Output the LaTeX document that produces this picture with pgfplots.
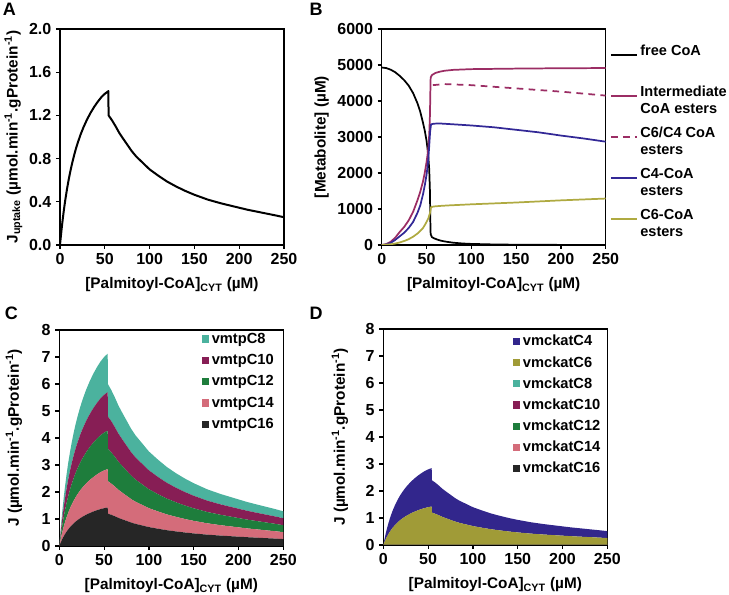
\documentclass[border=0pt]{standalone}
\usepackage{pgfplots}
\pgfplotsset{compat=1.18}
\usepackage{pgfplotstable}
\usepackage{fontspec}
\setmainfont{Liberation Sans}

\definecolor{cteal}{RGB}{75,178,158}
\definecolor{cmaroon}{RGB}{135,30,85}
\definecolor{cgreen}{RGB}{30,125,60}
\definecolor{cpink}{RGB}{212,108,122}
\definecolor{cdark}{RGB}{38,38,38}
\definecolor{cblue}{RGB}{50,38,140}
\definecolor{colive}{RGB}{160,155,55}
\definecolor{lmag}{RGB}{155,45,100}
\definecolor{lblue}{RGB}{50,40,150}
\definecolor{lolive}{RGB}{175,170,65}

% uptake flux (panel A); the same flux carries every beta-oxidation step in C and D
\pgfplotstableread{
x J z
0 0 0
0.5 0.043 0
1 0.085 0
2 0.163 0
3 0.235 0
4 0.302 0
5 0.364 0
6 0.422 0
8 0.527 0
10 0.619 0
12 0.700 0
14 0.773 0
16 0.839 0
18 0.898 0
20 0.951 0
23 1.023 0
26 1.086 0
30 1.159 0
34 1.222 0
38 1.277 0
42 1.325 0
46 1.367 0
50 1.400 0
54 1.425 0
54.2 1.20 0
58 1.155 0
62 1.10 0
66 1.04 0
70 0.99 0
75 0.93 0
80 0.87 0
85 0.82 0
90 0.78 0
95 0.74 0
100 0.70 0
110 0.64 0
120 0.585 0
130 0.54 0
140 0.50 0
150 0.465 0
165 0.42 0
180 0.385 0
195 0.355 0
210 0.325 0
225 0.30 0
240 0.275 0
250 0.257 0
}\tabJ

% panel B
\pgfplotstableread{
x y
0 4930
5 4915
10 4870
15 4800
20 4700
25 4580
30 4430
35 4220
40 3930
43 3700
46 3400
48 3180
50 2900
51 2700
52 2450
53 2100
53.8 1500
54.3 600
54.6 300
56 220
58 190
62 150
66 120
70 100
75 80
80 63
90 42
100 30
125 15
150 8
200 3
250 1
}\tabFree
\pgfplotstableread{
x y
0 0
5 25
10 90
15 200
20 360
25 500
30 680
35 920
40 1250
43 1480
46 1760
48 2000
50 2300
51 2480
52 2700
53 3050
53.8 3600
54.3 4300
54.6 4650
56 4720
60 4780
65 4815
70 4840
80 4865
100 4885
150 4900
200 4910
250 4915
}\tabInt
\pgfplotstableread{
x y
57 4440
70 4470
100 4440
150 4350
200 4260
250 4150
}\tabSum
\pgfplotstableread{
x y
0 0
5 15
10 60
15 140
20 240
25 340
30 470
35 640
40 900
43 1100
46 1400
48 1650
50 1950
51 2150
52 2400
53 2750
54 3150
55 3350
58 3370
65 3375
75 3360
100 3320
125 3270
150 3200
175 3130
200 3040
225 2960
250 2870
}\tabCfour
\pgfplotstableread{
x y
0 0
10 20
15 40
20 70
25 110
30 160
35 230
40 320
43 390
46 470
48 550
50 640
52 740
53 820
54 900
55 1050
58 1070
65 1085
75 1100
100 1130
150 1180
200 1240
250 1290
}\tabCsix

\pgfplotsset{
  panel/.style={
    scale only axis, width=168pt, height=162pt,
    xmin=0, xmax=250, xtick={0,50,...,250},
    axis line style={line width=0.9pt},
    tick style={line width=0.9pt, black},
    tick align=outside, major tick length=3pt,
    tick pos=left,
    tick label style={font=\fontsize{12}{14}\selectfont\bfseries},
    /pgf/number format/assume math mode=true,
    xlabel={[Palmitoyl-CoA]\textsubscript{CYT} (µM)},
    every axis x label/.style={at={(axis description cs:0.5,0)}, anchor=center, yshift=-30pt,
      font=\fontsize{11.5}{13}\selectfont\bfseries},
    every axis y label/.style={rotate=90, anchor=center,
      font=\fontsize{11.5}{13}\selectfont\bfseries},
  },
  sq/.style={legend image code/.code={\fill[##1] (0pt,-2.7pt) rectangle (5.4pt,2.7pt);}},
}

\begin{document}
\begin{tikzpicture}
\useasboundingbox (0pt,0pt) rectangle (546.75pt,446.25pt);

% A
\begin{axis}[panel, at={(45pt,262.5pt)},
  ymin=0, ymax=2, ytick={0,0.4,0.8,1.2,1.6,2.0},
  yticklabel style={/pgf/number format/.cd, fixed, fixed zerofill, precision=1},
  ylabel={J\textsubscript{uptake} (µmol.min\textsuperscript{-1}.gProtein\textsuperscript{-1})},
  ylabel style={at={([xshift=-35pt]axis description cs:0,0.5)}}]
\addplot[black, line width=1.5pt, line join=round] table[x=x, y=J] {\tabJ};
\end{axis}

% B
\begin{axis}[panel, at={(286.3pt,262.5pt)},
  ymin=0, ymax=6000, ytick={0,1000,...,6000}, scaled y ticks=false,
  yticklabel style={/pgf/number format/1000 sep={}},
  ylabel={[Metabolite] (µM)},
  ylabel style={at={([xshift=-45pt]axis description cs:0,0.5)}},
  legend style={at={(axis description cs:1,1)}, anchor=north west, xshift=0pt, yshift=-8pt,
    draw=none, fill=none, font=\fontsize{10.9}{12.6}\selectfont\bfseries,
    cells={align=left}, row sep=4.8pt},
  legend cell align=left,
  legend image code/.code={\draw[#1, line width=1.3pt] (0pt,3.6pt) -- (19.5pt,3.6pt);}]
\addplot[black, line width=1.3pt, line join=round] table {\tabFree};
\addlegendentry{free CoA\\\mbox{}}
\addplot[lmag, line width=1.3pt, line join=round] table {\tabInt};
\addlegendentry{Intermediate\\CoA esters}
\addplot[lmag, line width=1.3pt, dash pattern=on 5pt off 4pt] table {\tabSum};
\addlegendentry{C6/C4 CoA\\esters}
\addplot[lblue, line width=1.3pt, line join=round] table {\tabCfour};
\addlegendentry{C4-CoA\\esters}
\addplot[lolive, line width=1.3pt, line join=round] table {\tabCsix};
\addlegendentry{C6-CoA\\esters}
\end{axis}

% C
\begin{axis}[panel, at={(44.5pt,36.75pt)}, stack plots=y,
  ymin=0, ymax=8, ytick={0,...,8},
  ylabel={J (µmol.min\textsuperscript{-1}.gProtein\textsuperscript{-1})},
  ylabel style={at={([xshift=-34pt]axis description cs:0,0.5)}},
  sq, reverse legend,
  legend style={at={(axis description cs:1,1)}, anchor=north east, xshift=-2pt, yshift=2pt,
    draw=none, fill=none, font=\fontsize{11}{12.5}\selectfont\bfseries, row sep=2.8pt},
  legend cell align=left]
\addplot[fill=cdark, draw=none] table[x=x, y=J] {\tabJ} \closedcycle;
\addlegendentry{vmtpC16}
\addplot[fill=cpink, draw=none] table[x=x, y=J] {\tabJ} \closedcycle;
\addlegendentry{vmtpC14}
\addplot[fill=cgreen, draw=none] table[x=x, y=J] {\tabJ} \closedcycle;
\addlegendentry{vmtpC12}
\addplot[fill=cmaroon, draw=none] table[x=x, y=J] {\tabJ} \closedcycle;
\addlegendentry{vmtpC10}
\addplot[fill=cteal, draw=none] table[x=x, y=J] {\tabJ} \closedcycle;
\addlegendentry{vmtpC8}
\end{axis}

% D
\begin{axis}[panel, at={(287.5pt,37.5pt)}, stack plots=y,
  ymin=0, ymax=8, ytick={0,...,8},
  ylabel={J (µmol.min\textsuperscript{-1}.gProtein\textsuperscript{-1})},
  ylabel style={at={([xshift=-32.5pt]axis description cs:0,0.5)}},
  sq, reverse legend,
  legend style={at={(axis description cs:1,1)}, anchor=north east, xshift=0pt, yshift=-0.5pt,
    draw=none, fill=none, font=\fontsize{11}{12.5}\selectfont\bfseries, row sep=2.4pt},
  legend cell align=left]
\addplot[fill=cdark, draw=none] table[x=x, y=z] {\tabJ} \closedcycle;
\addlegendentry{vmckatC16}
\addplot[fill=cpink, draw=none] table[x=x, y=z] {\tabJ} \closedcycle;
\addlegendentry{vmckatC14}
\addplot[fill=cgreen, draw=none] table[x=x, y=z] {\tabJ} \closedcycle;
\addlegendentry{vmckatC12}
\addplot[fill=cmaroon, draw=none] table[x=x, y=z] {\tabJ} \closedcycle;
\addlegendentry{vmckatC10}
\addplot[fill=cteal, draw=none] table[x=x, y=z] {\tabJ} \closedcycle;
\addlegendentry{vmckatC8}
\addplot[fill=colive, draw=none] table[x=x, y=J] {\tabJ} \closedcycle;
\addlegendentry{vmckatC6}
\addplot[fill=cblue, draw=none] table[x=x, y=J] {\tabJ} \closedcycle;
\addlegendentry{vmckatC4}
\end{axis}

\node[font=\fontsize{13.5}{15}\selectfont\bfseries] at (7pt,439pt) {A};
\node[font=\fontsize{13.5}{15}\selectfont\bfseries] at (237pt,439pt) {B};
\node[font=\fontsize{13.5}{15}\selectfont\bfseries] at (8.5pt,211pt) {C};
\node[font=\fontsize{13.5}{15}\selectfont\bfseries] at (237pt,211pt) {D};
\end{tikzpicture}
\end{document}
